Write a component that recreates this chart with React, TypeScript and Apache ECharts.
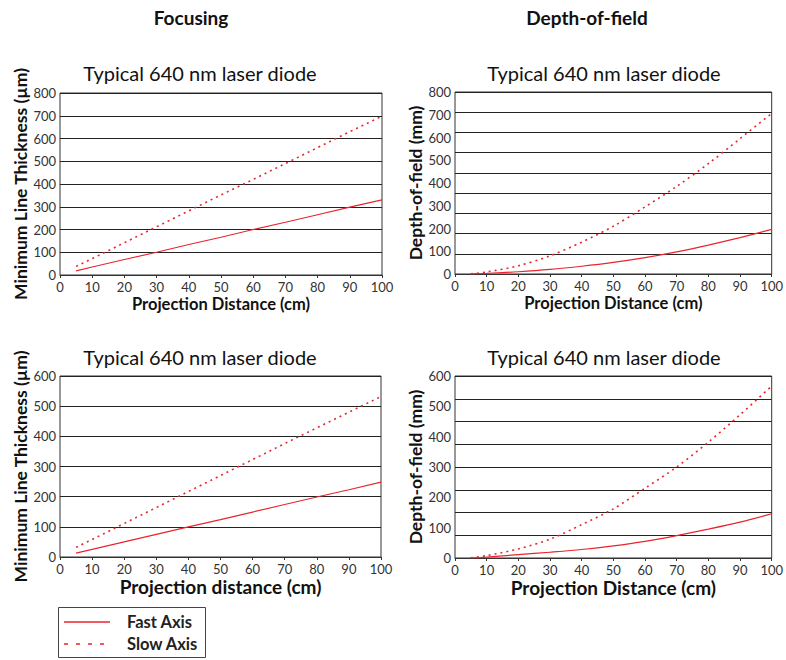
import React, { useEffect, useRef } from "react";
import * as echarts from "echarts";

const xValues = [5, 10, 20, 30, 40, 50, 60, 70, 80, 90, 100];

// Focusing, top (µm)
const focusTopFast = [18, 35, 68, 100, 134, 166, 200, 232, 265, 298, 330];
const focusTopSlow = [38, 72, 142, 212, 282, 352, 420, 490, 560, 630, 698];
// Depth-of-field, top (mm)
const dofTopFast = [0, 3, 10, 20, 34, 51, 72, 97, 127, 160, 196];
const dofTopSlow = [1, 9, 36, 80, 140, 210, 295, 385, 485, 595, 706];
// Focusing, bottom (µm)
const focusBotFast = [13, 25, 50, 75, 100, 124, 149, 174, 199, 223, 248];
const focusBotSlow = [32, 58, 111, 164, 217, 270, 323, 376, 428, 480, 532];
// Depth-of-field, bottom (mm)
const dofBotFast = [0, 3, 11, 19, 28, 40, 55, 74, 95, 118, 146];
const dofBotSlow = [1, 8, 30, 62, 110, 162, 230, 300, 382, 472, 567];

const columnTitles = ["Focusing", "Depth-of-field"];
const subTitle = "Typical 640 nm laser diode";
const legendNames = ["Fast Axis", "Slow Axis"];

const FONT = "Lato";
const RED = "#e8252d";

const pairs = (ys: number[]) => xValues.map((x, i) => [x, ys[i]]);

export default function App() {
  const ref = useRef<HTMLDivElement>(null);
  useEffect(() => {
    const chart = echarts.init(ref.current!, undefined, { renderer: "svg" });
    const grids = [
      { left: 60, top: 93, width: 322, height: 182 },
      { left: 455, top: 92, width: 323, height: 182 },
      { left: 60, top: 376, width: 321, height: 181 },
      { left: 455, top: 376, width: 323, height: 182 },
    ];
    const xNames = [
      "Projection Distance (cm)",
      "Projection Distance (cm)",
      "Projection distance (cm)",
      "Projection Distance (cm)",
    ];
    const xNameSizes = [16.5, 16.5, 19, 19];
    const yNames = [
      "Minimum Line Thickness (µm)",
      "Depth-of-field (mm)",
      "Minimum Line Thickness (µm)",
      "Depth-of-field (mm)",
    ];
    const yMax = [800, 800, 600, 600];
    const gridDivs = [8, 9, 6, 8];

    const xAxis = grids.map((_, i) => ({
      type: "value",
      gridIndex: i,
      min: 0,
      max: 100,
      interval: 10,
      name: xNames[i],
      nameLocation: "middle",
      nameGap: 20,
      nameTextStyle: { fontFamily: FONT, fontWeight: "bold", fontSize: xNameSizes[i], color: "#111" },
      axisLine: { show: true, lineStyle: { color: "#333" } },
      axisTick: { show: true, length: 3, lineStyle: { color: "#333" } },
      axisLabel: { fontFamily: FONT, fontSize: 13, color: "#333", margin: 5 },
      splitLine: { show: false },
    }));

    const yAxis: any[] = [];
    grids.forEach((_, i) => {
      yAxis.push({
        type: "value",
        gridIndex: i,
        min: 0,
        max: yMax[i],
        interval: 100,
        name: yNames[i],
        nameLocation: "middle",
        nameRotate: 90,
        nameGap: 31,
        nameTextStyle: { fontFamily: FONT, fontWeight: "bold", fontSize: 17.5, color: "#111" },
        axisLine: { show: false },
        axisTick: { show: false },
        axisLabel: { fontFamily: FONT, fontSize: 13, color: "#333", margin: 4 },
        splitLine: { show: false },
      });
    });
    // separate gridline scales (gridlines in the reference do not follow the labels on the right panels)
    grids.forEach((_, i) => {
      yAxis.push({
        type: "value",
        gridIndex: i,
        position: "right",
        min: 0,
        max: gridDivs[i],
        interval: 1,
        axisLine: { show: false },
        axisTick: { show: false },
        axisLabel: { show: false },
        splitLine: { show: true, lineStyle: { color: "#222", width: 1 } },
      });
    });

    const data = [
      [focusTopFast, focusTopSlow],
      [dofTopFast, dofTopSlow],
      [focusBotFast, focusBotSlow],
      [dofBotFast, dofBotSlow],
    ];
    const series: any[] = [];
    data.forEach((pair, i) => {
      pair.forEach((ys, k) => {
        series.push({
          type: "line",
          name: legendNames[k],
          xAxisIndex: i,
          yAxisIndex: i,
          data: pairs(ys),
          smooth: i % 2 === 1 ? 0.3 : false,
          showSymbol: false,
          lineStyle: { color: RED, width: k === 0 ? 1.2 : 1.6, type: k === 0 ? "solid" : [2, 4] },
          z: 5,
        });
      });
    });

    const textStyleBase = { fontFamily: FONT, fill: "#111" };
    const graphic: any[] = [
      { type: "text", x: 191, y: 17, style: { ...textStyleBase, text: columnTitles[0], fontSize: 19, fontWeight: "bold", align: "center", verticalAlign: "middle" } },
      { type: "text", x: 587, y: 17, style: { ...textStyleBase, text: columnTitles[1], fontSize: 19, fontWeight: "bold", align: "center", verticalAlign: "middle" } },
      { type: "text", x: 200, y: 73, style: { ...textStyleBase, text: subTitle, fontSize: 20, align: "center", verticalAlign: "middle" } },
      { type: "text", x: 604, y: 73, style: { ...textStyleBase, text: subTitle, fontSize: 20, align: "center", verticalAlign: "middle" } },
      { type: "text", x: 200, y: 357, style: { ...textStyleBase, text: subTitle, fontSize: 20, align: "center", verticalAlign: "middle" } },
      { type: "text", x: 604, y: 357, style: { ...textStyleBase, text: subTitle, fontSize: 20, align: "center", verticalAlign: "middle" } },
      { type: "rect", shape: { x: 58.5, y: 607.5, width: 147, height: 50 }, style: { fill: "#fff", stroke: "#444", lineWidth: 1 } },
      { type: "line", shape: { x1: 64, y1: 622, x2: 110, y2: 622 }, style: { stroke: RED, lineWidth: 1.6 } },
      { type: "line", shape: { x1: 64, y1: 644, x2: 110, y2: 644 }, style: { stroke: RED, lineWidth: 1.6, lineDash: [4, 8] } },
      { type: "text", x: 127, y: 622, style: { ...textStyleBase, text: legendNames[0], fontSize: 16.5, fontWeight: "bold", verticalAlign: "middle", fill: "#222" } },
      { type: "text", x: 127, y: 644, style: { ...textStyleBase, text: legendNames[1], fontSize: 16.5, fontWeight: "bold", verticalAlign: "middle", fill: "#222" } },
    ];

    chart.setOption({
      animation: false,
      backgroundColor: "#fff",
      grid: grids.map((g) => ({ ...g, show: true, borderColor: "#333", borderWidth: 1, backgroundColor: "transparent" })),
      xAxis,
      yAxis,
      series,
      graphic,
    });
    return () => chart.dispose();
  }, []);
  return <div ref={ref} style={{ position: "absolute", left: 0, top: 0, width: 786, height: 660 }} />;
}
